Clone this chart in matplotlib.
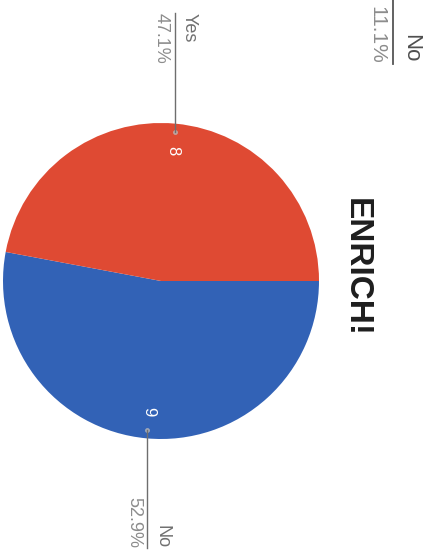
import numpy as np
import matplotlib
matplotlib.use("Agg")
import matplotlib.pyplot as plt

# Survey answers for "ENRICH!"
answers = ["No", "Yes"]
counts = [9, 8]
percent_labels = ["52.9%", "47.1%"]
slice_colors = ["#3262B6", "#DF4A33"]

# Partly visible answer from the neighbouring chart
side_answer = "No"
side_percent = "11.1%"

title = "ENRICH!"

W, H = 431, 553
fig = plt.figure(figsize=(W / 100, H / 100), dpi=100)
ax = fig.add_axes([0, 0, 1, 1])

cx, cy, r = 161, H - 281, 158
wedges, _ = ax.pie(counts, colors=slice_colors, startangle=0, counterclock=False,
                   center=(cx, cy), radius=r, wedgeprops=dict(linewidth=0))
ax.set_xlim(0, W)
ax.set_ylim(0, H)
ax.set_aspect("equal")
ax.axis("off")

font = "Liberation Sans"
line_ends = [H - 548, H - 13]          # where each leader line stops
for w, n, name, pct, yend in zip(wedges, counts, answers, percent_labels, line_ends):
    mid = np.deg2rad((w.theta1 + w.theta2) / 2)
    # count inside the slice
    ax.text(cx + 0.83 * r * np.cos(mid), cy + 0.83 * r * np.sin(mid), str(n),
            rotation=-90, ha="center", va="center", color="white",
            fontsize=12, fontfamily=font)
    # leader dot and line
    dx, dy = cx + 0.95 * r * np.cos(mid), cy + 0.95 * r * np.sin(mid)
    ax.plot([dx], [dy], "o", ms=3.5, color="#BBBBBB", alpha=0.8, mec="none")
    ax.plot([dx, dx], [dy, yend], color="#6E6E6E", lw=1)
    va = "top" if yend > cy else "bottom"
    ax.text(dx + 6, yend, name, rotation=-90, ha="left", va=va,
            color="#707070", fontsize=13, fontfamily=font)
    ax.text(dx - 5, yend, pct, rotation=-90, ha="right", va=va,
            color="#8C8C8C", fontsize=13, fontfamily=font)

# neighbouring chart label at the top edge
ax.plot([393, 393], [H + 2, H - 64], color="#555555", lw=1.3)
ax.text(400, H - 62, side_answer, rotation=-90, ha="left", va="bottom",
        color="#4F4F4F", fontsize=16, fontfamily=font)
ax.text(386, H - 64, side_percent, rotation=-90, ha="right", va="bottom",
        color="#8C8C8C", fontsize=15, fontfamily=font)

ax.text(356, H - 267, title, rotation=-90, ha="center", va="center",
        color="#1E1E1E", fontsize=24, fontweight="bold", fontfamily=font)

fig.savefig("out.png", dpi=100, facecolor="white")
